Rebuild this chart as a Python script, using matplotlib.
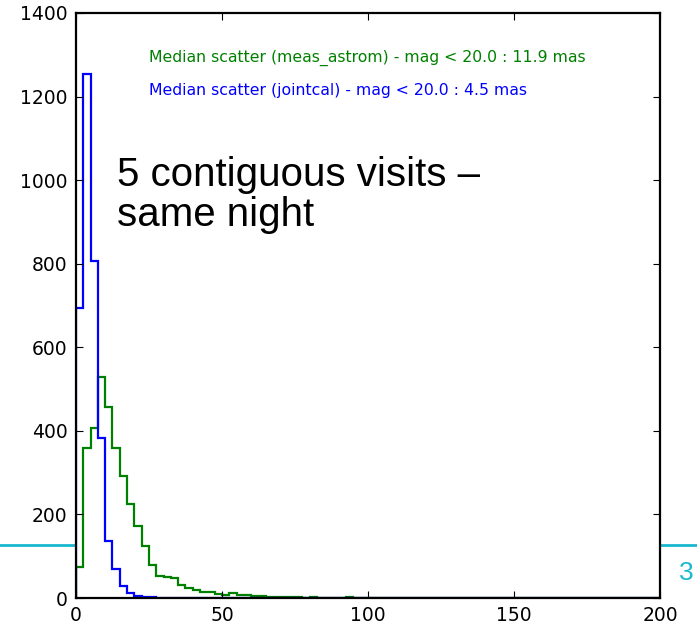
import numpy as np
import matplotlib
matplotlib.use("Agg")
import matplotlib.pyplot as plt
from matplotlib.lines import Line2D

# bins of 2.5 mas from 0 to 200
bin_edges = np.linspace(0, 200, 81)

# jointcal counts per bin
jointcal_counts = [695, 1253, 806, 384, 137, 69, 29, 11, 5, 3, 2, 1, 1, 1, 0, 1,
                   0, 0, 0, 0, 0, 0, 0, 0, 0, 0, 0, 0, 0, 0, 0, 0, 0, 0, 1, 0,
                   0, 0, 0, 0] + [0] * 40
# meas_astrom counts per bin
astrom_counts = [74, 360, 406, 529, 458, 360, 293, 224, 172, 124, 79, 53, 50, 47,
                 31, 23, 18, 14, 14, 10, 8, 13, 8, 6, 4, 4, 3, 3, 2, 2, 2, 1,
                 2, 1, 1, 1, 1, 2, 1, 1, 1, 0, 1, 0] + [0] * 36

astrom_label = "Median scatter (meas_astrom) - mag < 20.0 : 11.9 mas"
jointcal_label = "Median scatter (jointcal) - mag < 20.0 : 4.5 mas"
x_ticks = [0, 50, 100, 150, 200]
y_ticks = [0, 200, 400, 600, 800, 1000, 1200, 1400]

fig = plt.figure(figsize=(6.97, 6.25), dpi=100)

# slide decoration behind the plot
fig.add_artist(Line2D([0, 1], [0.128, 0.128], transform=fig.transFigure,
                      color="#1ab8cf", lw=2, zorder=0))
fig.text(0.984, 0.083, "3", color="#1ab8cf", fontsize=19,
         family="Liberation Sans", ha="center", va="center")

ax = fig.add_axes([0.109, 0.0432, 0.838, 0.936])
ax.set_zorder(1)
ax.stairs(astrom_counts, bin_edges, color=(0, 0.5, 0), lw=1.6, baseline=0)
ax.stairs(jointcal_counts, bin_edges, color=(0, 0, 1), lw=1.6, baseline=0)

ax.set_xlim(0, 200)
ax.set_ylim(0, 1400)
ax.set_xticks(x_ticks)
ax.set_yticks(y_ticks)
ax.tick_params(direction="in", top=True, right=True, length=5, width=0.8,
               labelsize=13.5, pad=6)
for s in ax.spines.values():
    s.set_linewidth(1.6)

ax.text(0.125, 0.923, astrom_label, transform=ax.transAxes, color=(0, 0.5, 0),
        fontsize=11.3, va="center")
ax.text(0.125, 0.867, jointcal_label, transform=ax.transAxes, color=(0, 0, 1),
        fontsize=11.3, va="center")

fig.text(0.168, 0.688, "5 contiguous visits \u2013\nsame night",
         family="Liberation Sans", fontsize=29, ha="left", va="center",
         linespacing=1.05, zorder=5)

fig.savefig("out.png", dpi=100)
